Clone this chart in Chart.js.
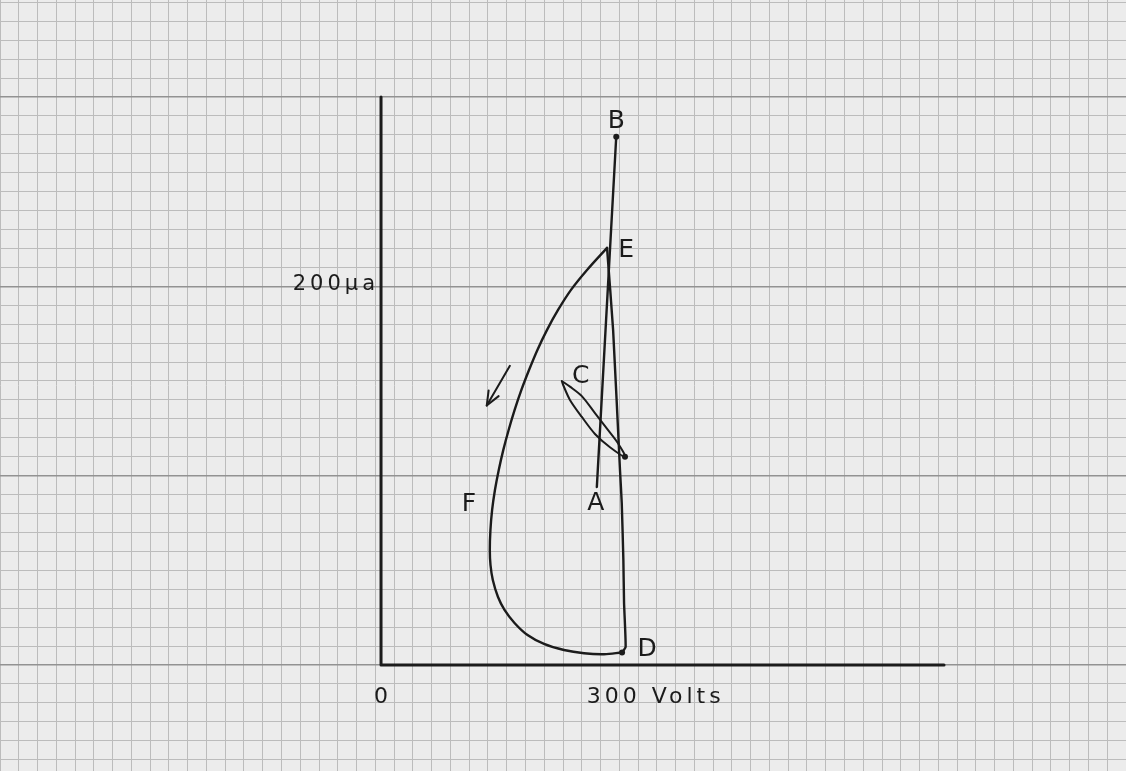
<!DOCTYPE html>
<html>
<head>
<meta charset="utf-8">
<script src="https://cdn.jsdelivr.net/npm/chart.js@4"></script>
<style>
  html, body { margin: 0; padding: 0; background: #ececec; }
  #wrap { width: 1126px; height: 771px; position: relative; }
</style>
</head>
<body>
<div id="wrap"><canvas id="chart"></canvas></div>
<script>
// volts (x) and microamps (y)
const abV = [345, 376];
const abI = [94, 279];

// E -> F -> D, the wide swing
const fSideV = [361.3, 329.3, 303.7, 283.0, 265.4, 250.0, 236.6, 224.4, 213.6, 204.0, 195.5, 188.2, 182.1, 177.6, 174.9, 173.9, 175.0, 178.7, 187.0, 197.4, 213.4, 234.2, 260.6, 292.5, 324.5, 356.5, 385.3];
const fSideI = [220.3, 208.6, 198.1, 187.5, 177.0, 166.4, 155.8, 145.3, 134.7, 124.1, 113.6, 103.0, 92.4, 81.9, 71.3, 60.7, 52.8, 44.9, 35.9, 29.1, 22.2, 15.8, 11.1, 7.9, 6.2, 5.7, 6.6];

// D -> E, back up the right side
const dSideV = [385.3, 391, 388.5, 387.4, 384.8, 382, 371, 361.3];
const dSideI = [6.6, 9.5, 32.7, 55.5, 85.6, 103, 177, 220.3];

// small loop at C
const cLoopV = [289, 302, 321, 342, 363, 379, 390, 366, 342, 321, 302, 291, 289];
const cLoopI = [150, 147, 142, 133, 124, 117, 110, 115, 122, 131, 140, 148, 150];

// direction arrow on the F side
const arrowV = [206, 169];
const arrowI = [158, 137];
const arrowHeadV = [172, 169, 188];
const arrowHeadI = [145, 137, 142];

// axes
const axisV = [0, 0, 900];
const axisI = [300, 0, 0];

const voltTicks = [0, 300];
const voltLabels = ['0', '300 Volts'];
const currentTicks = [200];
const currentLabels = ['200\u03bca'];
const pointNames = ['A', 'B', 'C', 'D', 'E', 'F'];

const ink = '#1b1b1b';

const pts = (xs, ys) => xs.map((v, i) => ({ x: v, y: ys[i] }));

function trace(xs, ys, tension, width) {
  return {
    data: pts(xs, ys),
    showLine: true,
    borderColor: ink,
    borderWidth: width || 2.4,
    borderCapStyle: 'round',
    borderJoinStyle: 'round',
    pointRadius: 0,
    pointHoverRadius: 0,
    tension: tension || 0,
    fill: false
  };
}

const dots = {
  data: [
    { x: abV[1], y: abI[1] },
    { x: fSideV[fSideV.length - 1], y: fSideI[fSideI.length - 1] },
    { x: cLoopV[6], y: cLoopI[6] }
  ],
  showLine: false,
  pointRadius: 3,
  pointHoverRadius: 3,
  pointBackgroundColor: ink,
  pointBorderWidth: 0
};

// lettering: tick labels and point names, placed from the scales
const marks = [
  { text: voltLabels[0], x: voltTicks[0], y: 0, dx: 0, dy: 32, font: '22px "DejaVu Sans"', spacing: '0px', align: 'center' },
  { text: voltLabels[1], x: voltTicks[1], y: 0, dx: 18, dy: 32, font: '22px "DejaVu Sans"', spacing: '4px', align: 'left' },
  { text: currentLabels[0], x: 0, y: currentTicks[0], dx: -2, dy: -2, font: '21px "DejaVu Sans"', spacing: '4px', align: 'right' },
  { text: pointNames[0], x: abV[0], y: abI[0], dx: -1, dy: 17 },
  { text: pointNames[1], x: abV[1], y: abI[1], dx: 0, dy: -15 },
  { text: pointNames[2], x: cLoopV[0], y: cLoopI[0], dx: 19, dy: -4 },
  { text: pointNames[3], x: fSideV[fSideV.length - 1], y: fSideI[fSideI.length - 1], dx: 25, dy: -3 },
  { text: pointNames[4], x: fSideV[0], y: fSideI[0], dx: 19, dy: 3 },
  { text: pointNames[5], x: fSideV[12], y: fSideI[12], dx: -26, dy: 14 }
];

const lettering = {
  id: 'lettering',
  afterDatasetsDraw(chart) {
    const { ctx, scales: { x, y } } = chart;
    ctx.save();
    ctx.fillStyle = ink;
    ctx.textBaseline = 'middle';
    for (const m of marks) {
      ctx.font = m.font || '25px "DejaVu Sans"';
      ctx.letterSpacing = m.spacing || '0px';
      ctx.textAlign = m.align || 'center';
      ctx.fillText(m.text, x.getPixelForValue(m.x) + m.dx, y.getPixelForValue(m.y) + m.dy);
    }
    ctx.restore();
  }
};

// graph paper: fine lines every square, heavier every ten
function paper(major) {
  return {
    drawTicks: false,
    color: c => (c.tick && Math.round(c.tick.value) % major === 0) ? '#929292' : '#bcbcbc',
    lineWidth: c => (c.tick && Math.round(c.tick.value) % major === 0) ? 1.4 : 1
  };
}

new Chart(document.getElementById('chart'), {
  type: 'scatter',
  data: {
    datasets: [
      trace(axisV, axisI, 0, 3),
      trace(abV, abI, 0),
      trace(fSideV, fSideI, 0.35),
      trace(dSideV, dSideI, 0.15),
      trace(cLoopV, cLoopI, 0.3, 2),
      trace(arrowV, arrowI, 0, 2),
      trace(arrowHeadV, arrowHeadI, 0, 2),
      dots
    ]
  },
  options: {
    responsive: true,
    maintainAspectRatio: false,
    animation: false,
    layout: { padding: 0, autoPadding: false },
    plugins: {
      legend: { display: false },
      tooltip: { enabled: false }
    },
    scales: {
      x: {
        type: 'linear',
        min: -609.1,
        max: 1190.9,
        border: { display: false },
        grid: paper(300),
        ticks: { display: false, stepSize: 30, includeBounds: false }
      },
      y: {
        type: 'linear',
        min: -56,
        max: 351.2,
        border: { display: false },
        grid: paper(100),
        ticks: { display: false, stepSize: 10, includeBounds: false }
      }
    }
  },
  plugins: [lettering]
});
</script>
</body>
</html>
